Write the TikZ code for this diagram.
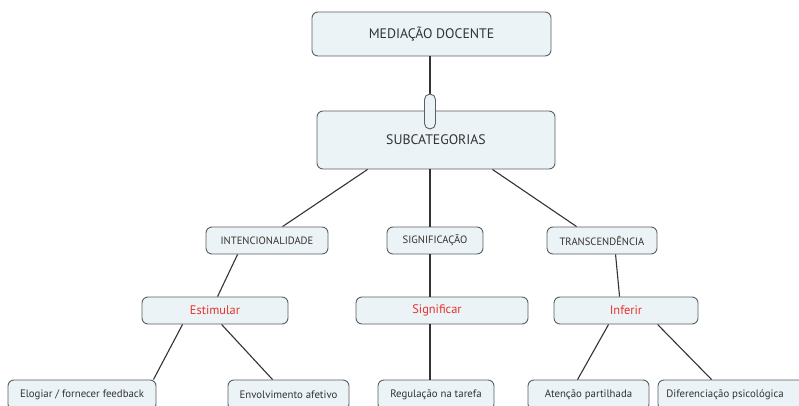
\documentclass[tikz,border=0pt]{standalone}
\usepackage{fontspec}
\setmainfont{PT Sans}
\usetikzlibrary{calc}
\definecolor{boxfill}{HTML}{EBF3F6}
\definecolor{boxline}{HTML}{5A5F63}
\definecolor{redtxt}{HTML}{E8322B}
\definecolor{txt}{HTML}{333333}
\tikzset{
  box/.style={draw=boxline, line width=0.9pt, fill=boxfill, rounded corners=6pt,
    inner sep=0pt, anchor=center, text=txt, font=\fontsize{10.8}{11}\selectfont},
  caps/.style={box, font=\fontsize{10.6}{11}\selectfont},
  big/.style={box, font=\fontsize{13.8}{15}\selectfont},
  redbox/.style={box, text=redtxt, font=\fontsize{12.4}{13}\selectfont},
  link/.style={draw=txt, line width=1.1pt}
}
\begin{document}
\begin{tikzpicture}[x=1pt,y=-1pt]
\clip (0,0) rectangle (799,406);
\fill[white] (0,0) rectangle (799,406);
\node[big, minimum width=239pt, minimum height=44pt] (med) at (431.5,34) {MEDIAÇÃO DOCENTE};
\node[big, minimum width=238pt, minimum height=58pt] (sub) at (436,140) {SUBCATEGORIAS};
\node[caps, minimum width=122pt, minimum height=27pt] (int) at (267,240.5) {INTENCIONALIDADE};
\node[caps, minimum width=96pt, minimum height=27pt] (sig) at (435,240.5) {SIGNIFICAÇÃO};
\node[caps, minimum width=110pt, minimum height=27pt] (tra) at (602,240.5) {TRANSCENDÊNCIA};
\node[redbox, minimum width=146pt, minimum height=27pt] (est) at (215,310.5) {Estimular};
\node[redbox, minimum width=172pt, minimum height=27pt] (sgf) at (442,310.5) {Significar\hspace*{10pt}};
\node[redbox, minimum width=144pt, minimum height=27pt] (inf) at (626,310.5) {Inferir};
\node[box, minimum width=148pt, minimum height=30pt] (elo) at (82,395) {Elogiar / fornecer feedback};
\node[box, minimum width=121pt, minimum height=30pt] (env) at (288.5,395) {Envolvimento afetivo};
\node[box, minimum width=116pt, minimum height=30pt] (reg) at (436,395) {Regulação na tarefa};
\node[box, minimum width=121pt, minimum height=30pt] (ate) at (588.5,395) {Atenção partilhada};
\node[box, minimum width=148pt, minimum height=30pt] (dif) at (732,395) {Diferenciação psicológica\hspace*{14pt}};
% connectors
\draw[link] ($(med.south)+(-1.5,0)$) -- ($(med.south)+(-1.5,38)$) coordinate (pt);
\draw[link] ($(sub.south west)+(51,0)$) -- ($(int.north west)+(77,0)$);
\draw[link] ($(sub.south)+(-6,0)$) -- ($(sig.north)+(-5,0)$);
\draw[link] ($(sub.south east)+(-63,0)$) -- ($(tra.north west)+(30,0)$);
\draw[link] ($(int.south west)+(32,0)$) -- ($(est.north west)+(76,0)$);
\draw[link] ($(sig.south)+(-5,0)$) -- ($(sgf.north)+(-12,0)$);
\draw[link] ($(tra.south west)+(69,0)$) -- ($(inf.north west)+(66,0)$);
\draw[link] ($(est.south west)+(41,0)$) -- ($(elo.north east)+(-3,0)$);
\draw[link] ($(est.south west)+(80,0)$) -- ($(env.north west)+(45,0)$);
\draw[link] ($(sgf.south)+(-12,0)$) -- ($(reg.north)+(-6,0)$);
\draw[link] ($(inf.south west)+(55,0)$) -- ($(ate.north west)+(50,0)$);
\draw[link] ($(inf.south west)+(104,0)$) -- ($(dif.north west)+(54,0)$);
% pill
\node[draw=boxline, line width=0.9pt, fill=boxfill, rounded corners=5.5pt, inner sep=0pt,
  minimum width=11pt, minimum height=35pt] (pill) at (430,111.5) {};
\end{tikzpicture}
\end{document}
